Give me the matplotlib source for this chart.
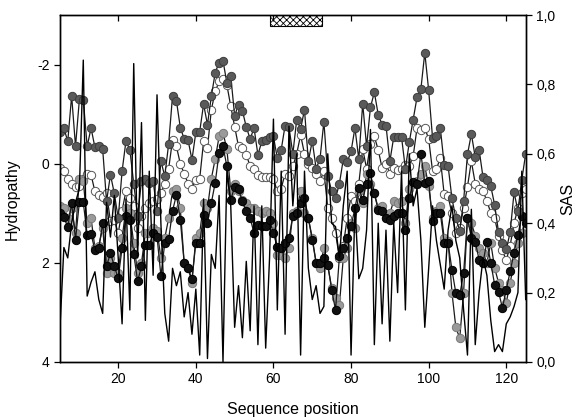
import numpy as np
import matplotlib as mpl
mpl.use('Agg')
import matplotlib.pyplot as plt
from matplotlib.patches import Rectangle
from matplotlib.ticker import FuncFormatter

plt.rcParams['font.family'] = ['Liberation Sans', 'DejaVu Sans']
plt.rcParams['axes.unicode_minus'] = False
plt.rcParams['hatch.linewidth'] = 0.6

positions = np.arange(5, 126)

# hydropathy, dark gray filled circles
hyd_dark = [-0.65, -0.72, -0.45, -1.37, -0.35, -1.30, -1.29, -0.35, -0.72, -0.33,
            -0.36, -0.29, 0.76, 0.22, 0.60, 1.10, 0.15, -0.46, -0.28, 0.40,
            1.05, 0.35, 0.30, 0.38, 0.35, 0.95, -0.05, 0.25, -0.40, -1.37,
            -1.27, -0.73, -0.50, -0.48, -0.08, -0.63, -0.65, -1.20, -0.79, -1.36,
            -1.84, -2.04, -2.08, -1.63, -1.77, -0.97, -1.19, -1.07, -0.74, -0.50,
            -0.72, -0.18, -0.45, -0.48, -0.54, -0.55, -0.11, -0.28, -0.77, -0.74,
            -0.20, -0.89, -0.70, -1.09, -0.05, -0.46, 0.10, -0.10, -0.85, 0.25,
            0.55, 0.70, 0.40, -0.09, -0.03, -0.25, -0.72, -0.09, -1.21, -0.35,
            -1.14, -1.44, -0.99, -0.79, -0.77, -0.05, -0.54, -0.54, -0.54, 0.10,
            -0.43, -0.89, -1.34, -1.51, -2.24, -1.48, -0.52, -0.55, -0.72, 0.02,
            0.04, 0.70, 1.10, 1.35, 0.75, -0.19, -0.60, -0.13, -0.28, 0.27,
            0.32, 0.45, 0.83, 1.38, 1.60, 1.73, 1.38, 0.58, 0.95, 0.32,
            -0.20]

# hydropathy, open circles
hyd_open = [0.09, 0.15, 0.30, 0.40, 0.46, 0.45, 0.30, 0.20, 0.22, 0.56,
            0.63, 0.67, 0.60, 1.16, 1.13, 1.40, 0.95, 0.55, 0.70, 0.85,
            1.30, 1.05, 0.90, 0.80, 0.75, 0.72, 0.60, 0.40, 0.10, -0.48,
            -0.35, 0.00, 0.20, 0.40, 0.50, 0.32, 0.30, -0.45, -0.32, -1.09,
            -1.46, -1.66, -1.70, -1.59, -1.16, -0.75, -0.35, -0.32, -0.18, 0.05,
            0.10, 0.22, 0.26, 0.26, 0.26, 0.30, 0.56, 0.50, 0.20, 0.25,
            0.05, -0.20, -0.58, -0.20, 0.00, 0.09, 0.20, 0.35, 0.15, 0.90,
            1.10, 1.40, 1.90, 1.65, 1.10, 0.66, 0.75, 0.40, -0.30, 0.10,
            -0.40, -0.55, -0.28, 0.09, 0.00, 0.20, 0.09, 0.12, 0.10, 0.02,
            0.05, -0.15, -0.72, -0.69, -0.72, -0.50, 0.15, 0.10, -0.11, 0.62,
            0.66, 1.00, 1.40, 1.30, 0.90, 0.46, -0.05, 0.40, 0.50, 0.55,
            0.75, 0.99, 1.10, 1.45, 1.75, 1.95, 1.65, 1.20, 0.90, 0.60,
            0.50]

# hydropathy, light gray filled circles
hyd_light = [0.85, 0.90, 1.10, 0.90, 1.40, 0.30, 0.35, 1.20, 1.10, 1.70,
             1.65, 1.30, 2.20, 1.90, 2.20, 2.20, 1.50, 0.90, 1.00, 1.60,
             2.20, 2.00, 1.40, 1.40, 1.30, 1.35, 1.90, 1.50, 1.10, 0.55,
             0.50, 0.90, 2.00, 2.10, 2.40, 1.50, 1.40, 0.80, 0.90, 0.30,
             -0.10, -0.55, -0.62, -0.30, 0.55, 0.40, 0.55, 0.73, 0.80, 0.90,
             0.89, 0.95, 1.00, 0.95, 1.00, 1.20, 1.85, 1.85, 1.90, 1.70,
             1.00, 0.95, 0.55, 1.00, 1.10, 1.50, 2.00, 2.10, 1.70, 2.05,
             2.50, 2.70, 2.85, 1.90, 1.70, 1.20, 1.30, 0.55, 0.80, 0.20,
             0.40, 0.60, 0.90, 0.85, 1.10, 1.00, 0.75, 0.80, 0.75, 1.20,
             0.50, 0.40, 0.35, 0.20, 0.05, 0.45, 1.10, 0.95, 0.85, 1.50,
             1.55, 2.60, 3.30, 3.52, 2.60, 1.10, 1.20, 1.45, 1.70, 1.80,
             2.00, 1.60, 2.10, 2.40, 2.55, 2.80, 2.40, 2.00, 1.60, 1.40,
             1.10]

# hydropathy, black filled circles
hyd_black = [1.00, 1.08, 1.28, 0.80, 1.53, 0.77, 0.78, 1.43, 1.42, 1.74,
             1.70, 1.20, 2.07, 1.80, 2.07, 2.31, 1.70, 1.05, 1.13, 1.82,
             2.37, 2.07, 1.63, 1.63, 1.40, 1.47, 2.26, 1.60, 1.52, 0.95,
             0.63, 1.13, 2.00, 2.10, 2.33, 1.60, 1.59, 1.03, 1.20, 0.79,
             0.38, -0.22, -0.35, 0.05, 0.73, 0.46, 0.52, 0.76, 0.95, 1.10,
             1.40, 1.23, 1.26, 1.25, 1.14, 1.40, 1.67, 1.70, 1.60, 1.50,
             1.05, 1.00, 0.80, 0.69, 1.10, 1.53, 2.00, 2.00, 1.90, 2.04,
             2.54, 2.95, 1.87, 1.70, 1.50, 1.26, 0.90, 0.49, 0.73, 0.40,
             0.19, 0.60, 0.93, 0.95, 1.10, 1.13, 1.05, 1.00, 1.00, 1.33,
             0.70, 0.36, 0.40, -0.20, 0.39, 0.35, 1.16, 1.00, 1.00, 1.60,
             1.60, 2.14, 2.61, 2.65, 2.21, 1.10, 1.50, 1.57, 1.94, 2.00,
             1.57, 2.00, 2.44, 2.58, 2.91, 2.54, 2.17, 1.80, 1.43, 1.06,
             1.20]

# solvent accessible surface (right axis)
sas = [0.10, 0.33, 0.30, 0.40, 0.46, 0.50, 0.87, 0.19, 0.23, 0.26,
       0.18, 0.14, 0.46, 0.36, 0.48, 0.30, 0.11, 0.47, 0.15, 0.86,
       0.30, 0.69, 0.12, 0.55, 0.25, 0.77, 0.40, 0.14, 0.06, 0.27,
       0.22, 0.26, 0.13, 0.20, 0.08, 0.21, 0.02, 0.47, 0.01, 0.31,
       0.27, 0.48, 0.00, 0.55, 0.45, 0.10, 0.22, 0.07, 0.29, 0.09,
       0.45, 0.05, 0.45, 0.04, 0.30, 0.70, 0.15, 0.55, 0.08, 0.68,
       0.45, 0.60, 0.02, 0.55, 0.27, 0.18, 0.22, 0.14, 0.16, 0.60,
       0.40, 0.39, 0.30, 0.45, 0.55, 0.02, 0.45, 0.24, 0.27, 0.38,
       0.67, 0.05, 0.40, 0.11, 0.38, 0.06, 0.40, 0.20, 0.55, 0.15,
       0.60, 0.45, 0.50, 0.35, 0.10, 0.27, 0.45, 0.35, 0.28, 0.21,
       0.38, 0.45, 0.35, 0.30, 0.15, 0.02, 0.44, 0.05, 0.20, 0.30,
       0.25, 0.12, 0.03, 0.05, 0.03, 0.11, 0.13, 0.16, 0.20, 0.55,
       0.18]

domain = (59, 72.5)

fig = plt.figure(figsize=(5.78, 4.17), dpi=100)
ax = fig.add_axes([0.1038, 0.1319, 0.8057, 0.8321])

line_kw = dict(color='#1a1a1a', lw=0.9, marker='o', ms=6, mew=0.7)
ax.plot(positions, hyd_open, mfc='white', mec='#555555', **line_kw)
ax.plot(positions, hyd_light, mfc='#9a9a9a', mec='#7a7a7a', **line_kw)
ax.plot(positions, hyd_black, mfc='#111111', mec='#000000', **line_kw)
ax.plot(positions, hyd_dark, mfc='#5a5a5a', mec='#3c3c3c', **line_kw)

ax.add_patch(Rectangle((domain[0], -3), domain[1] - domain[0], 0.22,
                       facecolor='white', edgecolor='black', hatch='xxxxx', lw=0.8))

ax.set_xlim(5, 125)
ax.set_ylim(4, -3)
ax.set_xticks([20, 40, 60, 80, 100, 120])
ax.set_yticks([-2, 0, 2, 4])
ax.tick_params(axis='x', direction='out', length=4, width=0.9, labelsize=10, top=True)
ax.tick_params(axis='y', direction='out', length=4, width=0.9, labelsize=10)
ax.set_xlabel('Sequence position', fontsize=11.5)
ax.set_ylabel('Hydropathy', fontsize=11.5)
ax.yaxis.set_label_coords(-0.086, 0.47)
ax.xaxis.set_label_coords(0.5, -0.115)

ax2 = ax.twinx()
ax2.plot(positions, sas, color='black', lw=1.0)
ax2.set_ylim(0, 1.0)
ax2.set_yticks(np.arange(0, 1.01, 0.2))
ax2.yaxis.set_major_formatter(FuncFormatter(lambda v, p: '{:.1f}'.format(v).replace('.', ',')))
ax2.tick_params(axis='y', direction='out', length=4, width=0.9, labelsize=10)
ax2.set_ylabel('SAS', fontsize=11.5)
ax2.yaxis.set_label_coords(1.075, 0.47)

# top ticks point inward
for t in ax.xaxis.get_major_ticks():
    t.tick2line.set_marker(3)

for a in (ax, ax2):
    for s in a.spines.values():
        s.set_linewidth(1.0)

fig.savefig('out.png', dpi=100)
